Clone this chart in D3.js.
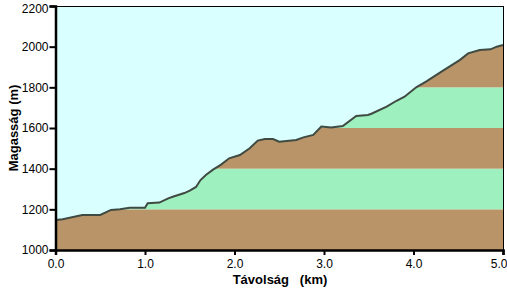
<!DOCTYPE html>
<html>
<head>
<meta charset="utf-8">
<script src="https://cdn.jsdelivr.net/npm/d3@7"></script>
<style>
  body { margin: 0; background: #fff; }
  svg { display: block; }
  .tick text { font-family: "Liberation Sans", Arial, sans-serif; font-size: 12px; fill: #000; }
</style>
</head>
<body>
<svg id="chart" width="507" height="294"></svg>
<script>
// profile: distance (km) and elevation (m)
var distKm = [0.00, 0.08, 0.30, 0.50, 0.62, 0.72, 0.83, 1.00, 1.03, 1.16, 1.26, 1.31, 1.44, 1.50, 1.57, 1.62,
  1.68, 1.76, 1.85, 1.94, 2.06, 2.17, 2.26, 2.34, 2.43, 2.50, 2.69, 2.77, 2.88, 2.97, 3.08, 3.21,
  3.36, 3.49, 3.53, 3.70, 3.81, 3.90, 4.03, 4.14, 4.33, 4.52, 4.61, 4.74, 4.86, 4.93, 5.00];
var elevM = [1147, 1151, 1172, 1172, 1197, 1200, 1208, 1208, 1230, 1233, 1254, 1262, 1280, 1292, 1310, 1344,
  1369, 1395, 1420, 1451, 1467, 1500, 1538, 1546, 1546, 1533, 1541, 1554, 1566, 1607, 1603, 1610,
  1659, 1664, 1670, 1705, 1734, 1754, 1800, 1828, 1882, 1935, 1967, 1984, 1987, 2000, 2008];

var bandFrom = [1000, 1200, 1400, 1600, 1800];
var bandTo = [1200, 1400, 1600, 1800, 2200];
var bandKind = ["brown", "green", "brown", "green", "brown"];

var xTicks = [0, 1, 2, 3, 4, 5];
var yTicks = [1000, 1200, 1400, 1600, 1800, 2000, 2200];

var colors = {brown: "#b89468", green: "#9ef0be", sky: "#d9ffff", line: "#3f4a42"};

var svg = d3.select("#chart");
var plotLeft = 55.5, plotRight = 503, plotTop = 6, plotBottom = 250;

var x = d3.scaleLinear().domain([0, 5]).range([plotLeft, plotRight]);
var y = d3.scaleLinear().domain([1000, 2200]).range([plotBottom, plotTop]);

// elevation bands
svg.selectAll("rect.band").data(bandFrom).enter().append("rect")
  .attr("class", "band")
  .attr("x", plotLeft)
  .attr("width", plotRight - plotLeft)
  .attr("y", function(d, i) { return y(bandTo[i]); })
  .attr("height", function(d, i) { return y(d) - y(bandTo[i]); })
  .style("fill", function(d, i) { return colors[bandKind[i]]; });

var pts = distKm.map(function(d, i) { return [d, elevM[i]]; });

// sky above the profile
var sky = d3.area()
  .x(function(d) { return x(d[0]); })
  .y0(y(2200))
  .y1(function(d) { return y(d[1]); });
svg.append("path").datum(pts).attr("d", sky).style("fill", colors.sky);

var line = d3.line()
  .x(function(d) { return x(d[0]); })
  .y(function(d) { return y(d[1]); });
svg.append("path").datum(pts).attr("d", line)
  .style("fill", "none").style("stroke", colors.line).style("stroke-width", 2);

// thin frame top / right
svg.append("line").attr("x1", plotLeft).attr("x2", plotRight).attr("y1", plotTop + 0.5).attr("y2", plotTop + 0.5)
  .style("stroke", "#000").style("stroke-width", 1);
svg.append("line").attr("x1", plotRight + 0.5).attr("x2", plotRight + 0.5).attr("y1", plotTop).attr("y2", plotBottom)
  .style("stroke", "#000").style("stroke-width", 1);

var xAxis = svg.append("g").attr("transform", "translate(0," + plotBottom + ")")
  .call(d3.axisBottom(x).tickValues(xTicks).tickSize(5).tickPadding(4).tickFormat(d3.format(".1f")));
var yAxis = svg.append("g").attr("transform", "translate(" + plotLeft + ",0)")
  .call(d3.axisLeft(y).tickValues(yTicks).tickSize(6).tickPadding(1).tickFormat(d3.format("d")));

[xAxis, yAxis].forEach(function(a) {
  a.select(".domain").style("stroke", "#000").style("stroke-width", 2.5);
  a.selectAll(".tick line").style("stroke", "#000").style("stroke-width", 2);
});

// last x label is pushed inside the window, like the original
xAxis.selectAll(".tick text").filter(function(d) { return d === 5; })
  .attr("text-anchor", "end").attr("x", 4);
// top y label sits a bit low so it is not cut
yAxis.selectAll(".tick text").filter(function(d) { return d === 2200; })
  .attr("dy", "0.5em");

svg.append("text")
  .attr("x", 280).attr("y", 284)
  .attr("text-anchor", "middle")
  .style("font-family", "Liberation Sans, Arial, sans-serif")
  .style("font-weight", "bold").style("font-size", "13px")
  .style("white-space", "pre")
  .text("Távolság   (km)");

svg.append("text")
  .attr("transform", "translate(18,128) rotate(-90)")
  .attr("text-anchor", "middle")
  .style("font-family", "Liberation Sans, Arial, sans-serif")
  .style("font-weight", "bold").style("font-size", "13px")
  .text("Magasság (m)");
</script>
</body>
</html>
